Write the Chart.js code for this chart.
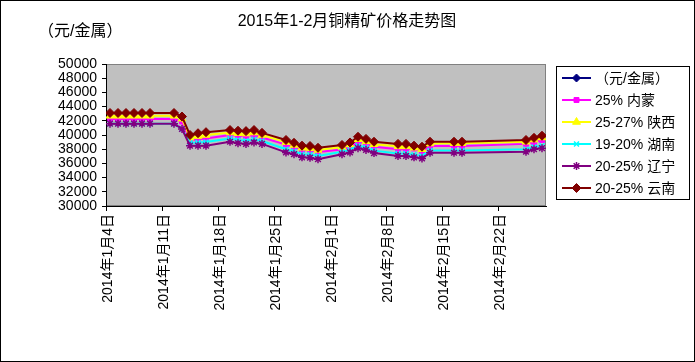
<!DOCTYPE html>
<html><head><meta charset="utf-8">
<script src="https://cdn.jsdelivr.net/npm/chart.js@4.4.1/dist/chart.umd.min.js"></script>
<style>html,body{margin:0;padding:0;background:#fff;}canvas{display:block;}</style>
</head><body>
<canvas id="c" width="695" height="362"></canvas>
<script>
// ---- data ----
const chartTitle = '2015年1-2月铜精矿价格走势图';
const unitLabel = '（元/金属）';
const axisStart = '01-04';
const axisEnd = '02-28';
const tickLabels = ['2014年1月4日','2014年1月11日','2014年1月18日','2014年1月25日','2014年2月1日','2014年2月8日','2014年2月15日','2014年2月22日'];
const dates = ['01-04','01-05','01-06','01-07','01-08','01-09',
  '01-12','01-13','01-14','01-15','01-16',
  '01-19','01-20','01-21','01-22','01-23',
  '01-26','01-27','01-28','01-29','01-30',
  '02-02','02-03','02-04','02-05','02-06',
  '02-09','02-10','02-11','02-12','02-13',
  '02-16','02-17',
  '02-25','02-26','02-27'];
const seriesNames = ['（元/金属）','25% 内蒙','25-27% 陕西','19-20% 湖南','20-25% 辽宁','20-25% 云南'];
const unitSeries = [];
const neimeng = [42250,42250,42250,42250,42250,42250, 42250,41900,39200,39400,39500, 40000,39900,39850,40000,39650, 38650,38300,37900,37850,37600, 37950,38300,39000,38750,38350, 38000,38000,38100,37700,38450, 38450,38450, 38750,39000,39300];
const shaanxi = [42700,42700,42700,42700,42700,42700, 42700,42300,39600,39850,40000, 40350,40250,40200,40350,40000, 39000,38600,38200,38150,37900, 38300,38650,39400,39100,38700, 38400,38400,38200,38000,38800, 38850,38850, 39050,39350,39650];
const hunan = [41600,41600,41600,41600,41600,41600, 41600,40850,38900,38950,39000, 39500,39300,39200,39400,39150, 38000,37700,37300,37250,37050, 37650,37900,38500,38250,37800, 37400,37400,37200,37050,37800, 37800,37800, 38000,38300,38500];
const liaoning = [41600,41600,41600,41600,41600,41600, 41600,40850,38500,38500,38500, 39050,38850,38750,38950,38750, 37550,37300,36850,36800,36600, 37300,37550,38150,37900,37450, 37050,37050,36850,36700,37500, 37500,37500, 37650,38000,38150];
const yunnan = [43100,43100,43100,43100,43100,43100, 43100,42600,40000,40250,40400, 40700,40600,40550,40700,40300, 39300,38900,38500,38450,38200, 38600,38950,39750,39450,39050, 38750,38750,38500,38350,39050, 39050,39050, 39300,39600,39900];
const yMin = 30000, yMax = 50000, yStep = 2000;

// ---- helpers ----
function dayIndex(m, d) { return (Date.UTC(2015, m - 1, d) - Date.UTC(2015, 0, 4)) / 86400000; }
function idxOf(s) { const [m, d] = s.split('-').map(Number); return dayIndex(m, d); }
const tickValues = tickLabels.map(l => { const r = l.match(/(\d+)月(\d+)日/); return dayIndex(+r[1], +r[2]) - 0.5; });
const pts = arr => arr.map((v, i) => ({ x: idxOf(dates[i]), y: v }));

const styles = [
  { color: '#000080', point: 'rectRot', r: 4 },
  { color: '#FF00FF', point: 'rect', r: 3.5 },
  { color: '#FFFF00', point: 'triangle', r: 4.5 },
  { color: '#00FFFF', point: 'crossRot', r: 3.5 },
  { color: '#800080', point: 'star', r: 4 },
  { color: '#800000', point: 'rectRot', r: 4.5 }
];
const seriesData = [unitSeries, neimeng, shaanxi, hunan, liaoning, yunnan];

const datasets = seriesData.map((arr, i) => ({
  label: seriesNames[i],
  data: pts(arr),
  borderColor: styles[i].color,
  backgroundColor: styles[i].color,
  borderWidth: 2,
  pointStyle: styles[i].point,
  pointRadius: styles[i].r,
  pointBorderWidth: (styles[i].point === 'crossRot' || styles[i].point === 'star') ? 1.5 : 1,
  pointBorderColor: styles[i].color,
  pointBackgroundColor: styles[i].color,
  tension: 0,
  order: seriesData.length - 1 - i
}));

const FONT = "'Liberation Sans', 'Noto Sans CJK SC', sans-serif";

const decor = {
  id: 'decor',
  beforeDraw(chart) {
    const ctx = chart.ctx, a = chart.chartArea;
    ctx.save();
    ctx.fillStyle = '#fff';
    ctx.fillRect(0, 0, chart.width, chart.height);
    ctx.fillStyle = '#C0C0C0';
    ctx.fillRect(a.left, a.top, a.right - a.left, a.bottom - a.top);
    ctx.strokeStyle = '#808080';
    ctx.lineWidth = 1;
    ctx.strokeRect(a.left + 0.5, a.top + 0.5, a.right - a.left - 1, a.bottom - a.top - 1);
    ctx.restore();
  },
  afterDraw(chart) {
    const ctx = chart.ctx;
    ctx.save();
    // frame
    ctx.strokeStyle = '#000';
    ctx.lineWidth = 1;
    ctx.strokeRect(0.5, 0.5, chart.width - 1, chart.height - 1);
    // titles
    ctx.fillStyle = '#000';
    ctx.textBaseline = 'middle';
    ctx.textAlign = 'center';
    ctx.font = "16px " + FONT;
    ctx.fillText(chartTitle, 347, 22);
    ctx.textAlign = 'left';
    ctx.fillText(unitLabel, 38, 32);
    // legend
    const bx = 556, by = 66, bw = 134, bh = 134;
    ctx.fillStyle = '#fff';
    ctx.fillRect(bx, by, bw, bh);
    ctx.strokeRect(bx + 0.5, by + 0.5, bw - 1, bh - 1);
    ctx.font = "14px " + FONT;
    chart.data.datasets.forEach((ds, i) => {
      const y = by + 12 + i * 22;
      ctx.strokeStyle = ds.borderColor;
      ctx.lineWidth = 2;
      ctx.beginPath();
      ctx.moveTo(562, y); ctx.lineTo(591, y);
      ctx.stroke();
      ctx.fillStyle = ds.pointBackgroundColor;
      ctx.strokeStyle = ds.pointBorderColor;
      ctx.lineWidth = ds.pointBorderWidth;
      Chart.helpers.drawPoint(ctx, { pointStyle: ds.pointStyle, radius: ds.pointRadius, rotation: 0, borderWidth: ds.pointBorderWidth }, 576.5, y);
      ctx.fillStyle = '#000';
      ctx.textAlign = 'left';
      ctx.fillText(ds.label, 595, y + 1);
    });
    ctx.restore();
  }
};

new Chart(document.getElementById('c'), {
  type: 'line',
  data: { datasets },
  options: {
    responsive: false,
    animation: false,
    devicePixelRatio: 1,
    layout: { padding: { top: 64, right: 149, left: 0, bottom: 0 } },
    plugins: { legend: { display: false }, title: { display: false }, tooltip: { enabled: false } },
    scales: {
      x: {
        type: 'linear',
        min: idxOf(axisStart) - 0.5,
        max: idxOf(axisEnd) - 0.5,
        afterBuildTicks: s => { s.ticks = tickValues.map(v => ({ value: v })); },
        afterFit: s => { s.height = 362 - 206; },
        ticks: {
          autoSkip: false, maxRotation: 90, minRotation: 90, labelOffset: 2,
          color: '#000', font: { family: FONT, size: 14 }, padding: 3,
          callback: (v, i) => tickLabels[i]
        },
        grid: { drawOnChartArea: false, drawTicks: true, tickLength: 5, color: '#000' },
        border: { display: true, color: '#000', width: 1 }
      },
      y: {
        min: yMin, max: yMax,
        afterFit: s => { s.width = 106; },
        ticks: { stepSize: yStep, autoSkip: false, color: '#000', font: { family: FONT, size: 14 }, padding: 5,
          callback: v => String(v) },
        grid: { drawOnChartArea: false, drawTicks: true, tickLength: 4, color: '#000' },
        border: { display: true, color: '#000', width: 1 }
      }
    }
  },
  plugins: [decor]
});
</script>
</body></html>
